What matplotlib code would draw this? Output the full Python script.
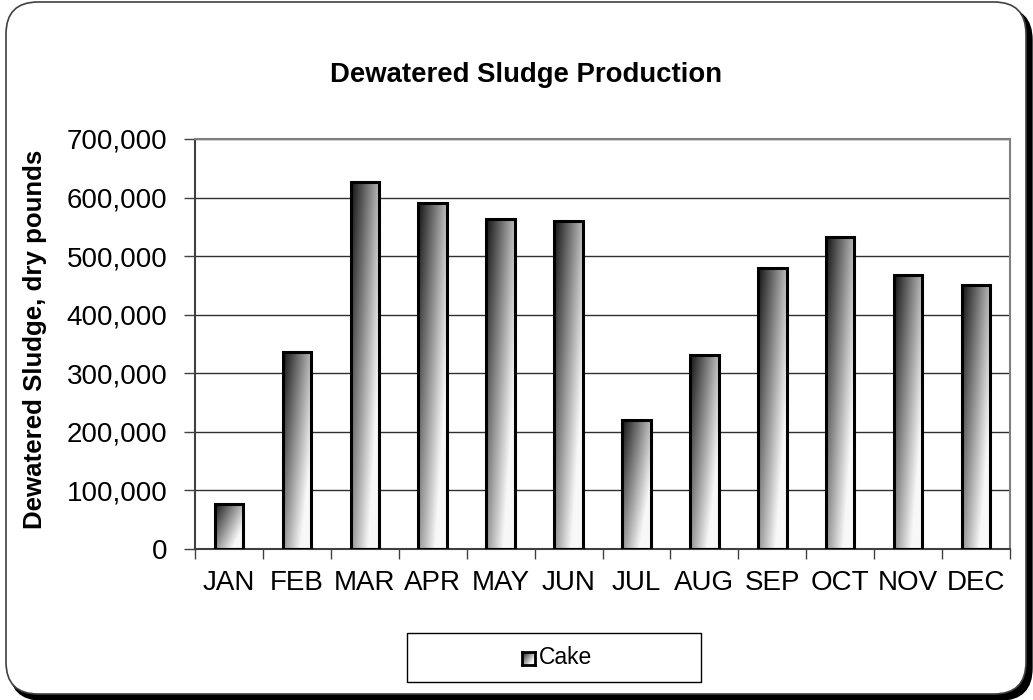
import numpy as np
import matplotlib
matplotlib.use("Agg")
import matplotlib.pyplot as plt
from matplotlib.patches import FancyBboxPatch, Rectangle
from matplotlib.ticker import FuncFormatter, MultipleLocator

# valores
months = ["JAN", "FEB", "MAR", "APR", "MAY", "JUN", "JUL", "AUG", "SEP", "OCT", "NOV", "DEC"]
cake = [77000, 336000, 626000, 591000, 563000, 560000, 220000, 332000, 479000, 532000, 467000, 451000]
series_name = "Cake"

plt.rcParams['font.family'] = ['Liberation Sans', 'DejaVu Sans']

W, H = 1033, 700
fig = plt.figure(figsize=(W / 100, H / 100), dpi=100)
fig.patch.set_facecolor('white')

# moldura arredondada com sombra
shadow = FancyBboxPatch((0.10, 0.0), 10.22, 6.92, boxstyle="round,pad=0,rounding_size=0.32",
                        transform=fig.dpi_scale_trans, facecolor='black', edgecolor='black', zorder=-2)
frame = FancyBboxPatch((0.06, 0.06), 10.20, 6.92, boxstyle="round,pad=0,rounding_size=0.32",
                       transform=fig.dpi_scale_trans, facecolor='white', edgecolor='#404040',
                       linewidth=1.2, zorder=-1)
fig.patches.extend([shadow, frame])


def gradient_img(n=64):
    u = np.linspace(0, 1, n)[None, :]
    v = np.linspace(1, 0, n)[:, None]  # linha 0 = topo
    g = 0.08 + 0.65 * u + 0.5 * (1 - v)
    return np.clip(g, 0, 0.97)


grad = gradient_img()

ax = fig.add_axes([195 / W, 1 - 549 / H, (1010 - 195) / W, (549 - 139) / H])
ax.set_zorder(2)
ax.set_facecolor('none')
x = np.arange(len(months))
bw = 0.42
bars = ax.bar(x, cake, width=bw, facecolor='none', edgecolor='black', linewidth=2.2, zorder=3)
for b in bars:
    x0, y0 = b.get_x(), b.get_y()
    im = ax.imshow(grad, cmap='gray', vmin=0, vmax=1, aspect='auto', interpolation='bilinear',
                   extent=(x0, x0 + b.get_width(), y0, y0 + b.get_height()), zorder=2)
    im.set_clip_path(b)

ax.set_xlim(-0.5, len(months) - 0.5)
ax.set_ylim(0, 700000)
ax.yaxis.set_major_locator(MultipleLocator(100000))
ax.yaxis.set_major_formatter(FuncFormatter(lambda v, p: f"{int(v):,}"))
ax.grid(axis='y', color='#303030', linewidth=1.0, zorder=1)
ax.set_axisbelow(True)

ax.set_xticks(x)
ax.set_xticklabels(months)
ax.set_xticks(np.arange(-0.5, len(months), 1), minor=True)
ax.tick_params(axis='x', which='major', length=0, pad=15, labelsize=20)
ax.tick_params(axis='x', which='minor', length=7, width=1, color='#404040', direction='out')
ax.tick_params(axis='y', length=8, width=1, color='#404040', pad=12, labelsize=20)

for s in ['top', 'right']:
    ax.spines[s].set_color('#808080')
    ax.spines[s].set_linewidth(1.5)
for s in ['left', 'bottom']:
    ax.spines[s].set_color('#404040')
    ax.spines[s].set_linewidth(1.5)

fig.text(526 / W, 1 - 75 / H, "Dewatered Sludge Production", ha='center', va='center',
         fontsize=19.8, fontweight='bold')
fig.text(35 / W, 1 - 339 / H, "Dewatered Sludge, dry pounds", ha='center', va='center',
         rotation=90, fontsize=18.6, fontweight='bold')

# legenda desenhada à mão
fig.patches.append(Rectangle((407 / W, 1 - 682 / H), 294 / W, 49 / H, transform=fig.transFigure,
                             facecolor='white', edgecolor='black', linewidth=1.0, zorder=1))
lax = fig.add_axes([522 / W, 1 - 665 / H, 13 / W, 13 / H])
lax.set_zorder(3)
lax.imshow(grad, cmap='gray', vmin=0, vmax=1, aspect='auto', interpolation='bilinear')
lax.set_xticks([])
lax.set_yticks([])
for s in lax.spines.values():
    s.set_linewidth(2)
fig.text(539 / W, 1 - 658 / H, series_name, ha='left', va='center', fontsize=16.5, zorder=3)

fig.savefig("out.png", dpi=100)
